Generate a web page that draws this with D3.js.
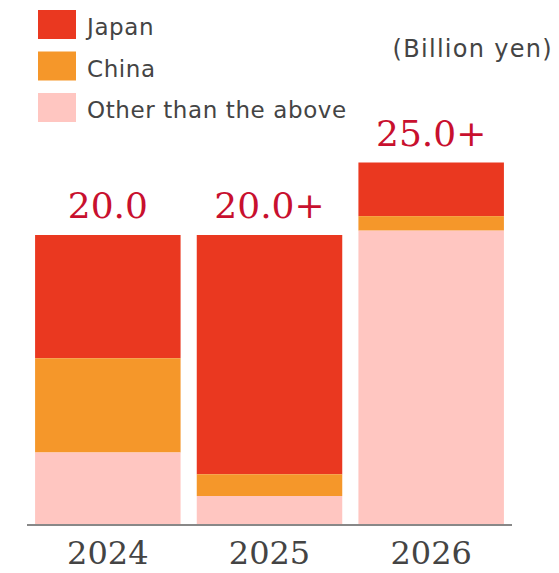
<!DOCTYPE html>
<html>
<head>
<meta charset="utf-8">
<script src="https://cdn.jsdelivr.net/npm/d3@7"></script>
<style>
  body { margin: 0; background: #fff; }
</style>
</head>
<body>
<div id="app"></div>
<script>
const years = ["2024", "2025", "2026"];
const regions = ["Japan", "China", "Other than the above"];
const japan = [8.5, 16.5, 3.7];
const china = [6.5, 1.5, 1.0];
const other = [5.0, 2.0, 20.3];
const totalLabels = ["20.0", "20.0+", "25.0+"];
const unitLabel = "(Billion yen)";

const colors = ["#ea3820", "#f5972a", "#ffc6c1"];

const full = { width: 559, height: 573 };
const margin = { top: 0, left: 27, right: 47, bottom: 48 };

const rows = years.map((y, i) => ({
  year: y,
  "Japan": japan[i],
  "China": china[i],
  "Other than the above": other[i],
  label: totalLabels[i]
}));

const stack = d3.stack().keys(regions).order(d3.stackOrderReverse);
const series = stack(rows);

const x = d3.scaleBand()
  .domain(years)
  .range([margin.left, full.width - margin.right])
  .paddingInner(0.1)
  .paddingOuter(0.05);

const baseline = full.height - margin.bottom;
const y = d3.scaleLinear()
  .domain([0, 20])
  .range([baseline, 235]);

const color = d3.scaleOrdinal().domain(regions).range(colors);

const svg = d3.select("#app")
  .append("svg")
  .attr("width", full.width)
  .attr("height", full.height);

// bars
svg.append("g")
  .selectAll("g")
  .data(series)
  .join("g")
  .attr("fill", d => color(d.key))
  .selectAll("rect")
  .data(d => d)
  .join("rect")
  .attr("x", d => x(d.data.year))
  .attr("y", d => y(d[1]))
  .attr("width", x.bandwidth())
  .attr("height", d => y(d[0]) - y(d[1]));

// totals above bars
svg.append("g")
  .selectAll("text")
  .data(rows)
  .join("text")
  .attr("x", d => x(d.year) + x.bandwidth() / 2)
  .attr("y", d => y(d.Japan + d.China + d["Other than the above"]) - 17)
  .attr("text-anchor", "middle")
  .attr("font-family", "DejaVu Serif")
  .attr("font-size", 36)
  .attr("fill", "#c8102e")
  .text(d => d.label);

// x axis
const xAxis = svg.append("g")
  .attr("transform", `translate(0,${baseline})`)
  .call(d3.axisBottom(x).tickSize(0).tickPadding(16));
xAxis.select(".domain")
  .attr("d", `M${margin.left},0H${full.width - margin.right}`)
  .attr("stroke", "#888")
  .attr("stroke-width", 2);
xAxis.selectAll("text")
  .attr("font-family", "DejaVu Serif")
  .attr("font-size", 32)
  .attr("fill", "#444")
  .attr("dy", "0.71em");

// legend
const legend = svg.append("g")
  .selectAll("g")
  .data(regions)
  .join("g")
  .attr("transform", (d, i) => `translate(38,${10 + i * 41.5})`);
legend.append("rect")
  .attr("width", 38)
  .attr("height", 29)
  .attr("fill", d => color(d));
legend.append("text")
  .attr("x", 49)
  .attr("y", 25)
  .attr("font-family", "DejaVu Sans")
  .attr("font-size", 23)
  .attr("letter-spacing", 0.6)
  .attr("fill", "#444")
  .text(d => d);

svg.append("text")
  .attr("x", 553)
  .attr("y", 57)
  .attr("text-anchor", "end")
  .attr("font-family", "DejaVu Sans")
  .attr("font-size", 24)
  .attr("letter-spacing", 1.3)
  .attr("fill", "#444")
  .text(unitLabel);
</script>
</body>
</html>
